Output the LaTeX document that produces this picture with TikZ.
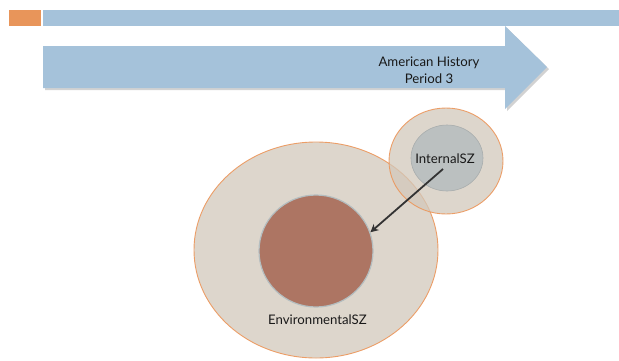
\documentclass[tikz,border=0pt]{standalone}
\usepackage{fontspec}
\setmainfont{Lato}
\usetikzlibrary{shapes.geometric,arrows.meta}
\definecolor{topor}{RGB}{232,149,90}
\definecolor{barblue}{RGB}{165,194,218}
\definecolor{beige}{RGB}{210,200,187}
\definecolor{ringor}{RGB}{236,150,90}
\definecolor{brown}{RGB}{173,117,99}
\definecolor{brownedge}{RGB}{180,190,192}
\definecolor{grayin}{RGB}{187,192,192}
\definecolor{txt}{RGB}{25,25,25}
\definecolor{arr}{RGB}{51,51,51}
\tikzset{
  outerring/.style={ellipse, inner sep=0pt, fill=beige, fill opacity=0.75, draw=ringor, draw opacity=0.9, line width=0.9pt},
  innerdisc/.style={ellipse, inner sep=0pt, line width=1.2pt},
  lbl/.style={text=txt, font=\fontsize{13.2}{17}\selectfont, align=center, inner sep=0pt},
  conn/.style={draw=arr, line width=1.8pt, -{Stealth[length=8pt,width=8pt,inset=2.5pt]}}
}
\begin{document}
\begin{tikzpicture}[x=1pt,y=-1pt]
\useasboundingbox (0,0) rectangle (619,360);
% top bars
\fill[topor] (9,10) rectangle (41,26);
\fill[barblue] (43,10) rectangle (619,26);
% timeline arrow with shadow
\fill[black!35, opacity=0.5] (45,48) -- (507,48) -- (507,28) -- (549,69) -- (507,111) -- (507,90) -- (45,90) -- cycle;
\fill[barblue] (43,46) -- (505,46) -- (505,26) -- (547,67) -- (505,109) -- (505,88) -- (43,88) -- cycle;
\node[lbl] (title) at (429,70.5) {American History\\Period 3};
% big circle
\node[outerring, minimum width=244pt, minimum height=216pt] (env) at (316,250) {};
\node[innerdisc, fill=brown, draw=brownedge, minimum width=114pt, minimum height=112pt] (brownc) at (316,251) {};
\node[lbl] (envlbl) at (317.5,320) {EnvironmentalSZ};
% small circle
\node[outerring, minimum width=114pt, minimum height=106pt] (intring) at (446,161) {};
\node[innerdisc, fill=grayin, draw=grayin!90!black, line width=0.6pt, minimum width=72pt, minimum height=66pt] (intc) at (447,158) {};
\node[lbl] (intlbl) at (445,159) {InternalSZ};
% connector
\coordinate (start) at (443,169);
\draw[conn] (start) -- (brownc.19);
\end{tikzpicture}
\end{document}
